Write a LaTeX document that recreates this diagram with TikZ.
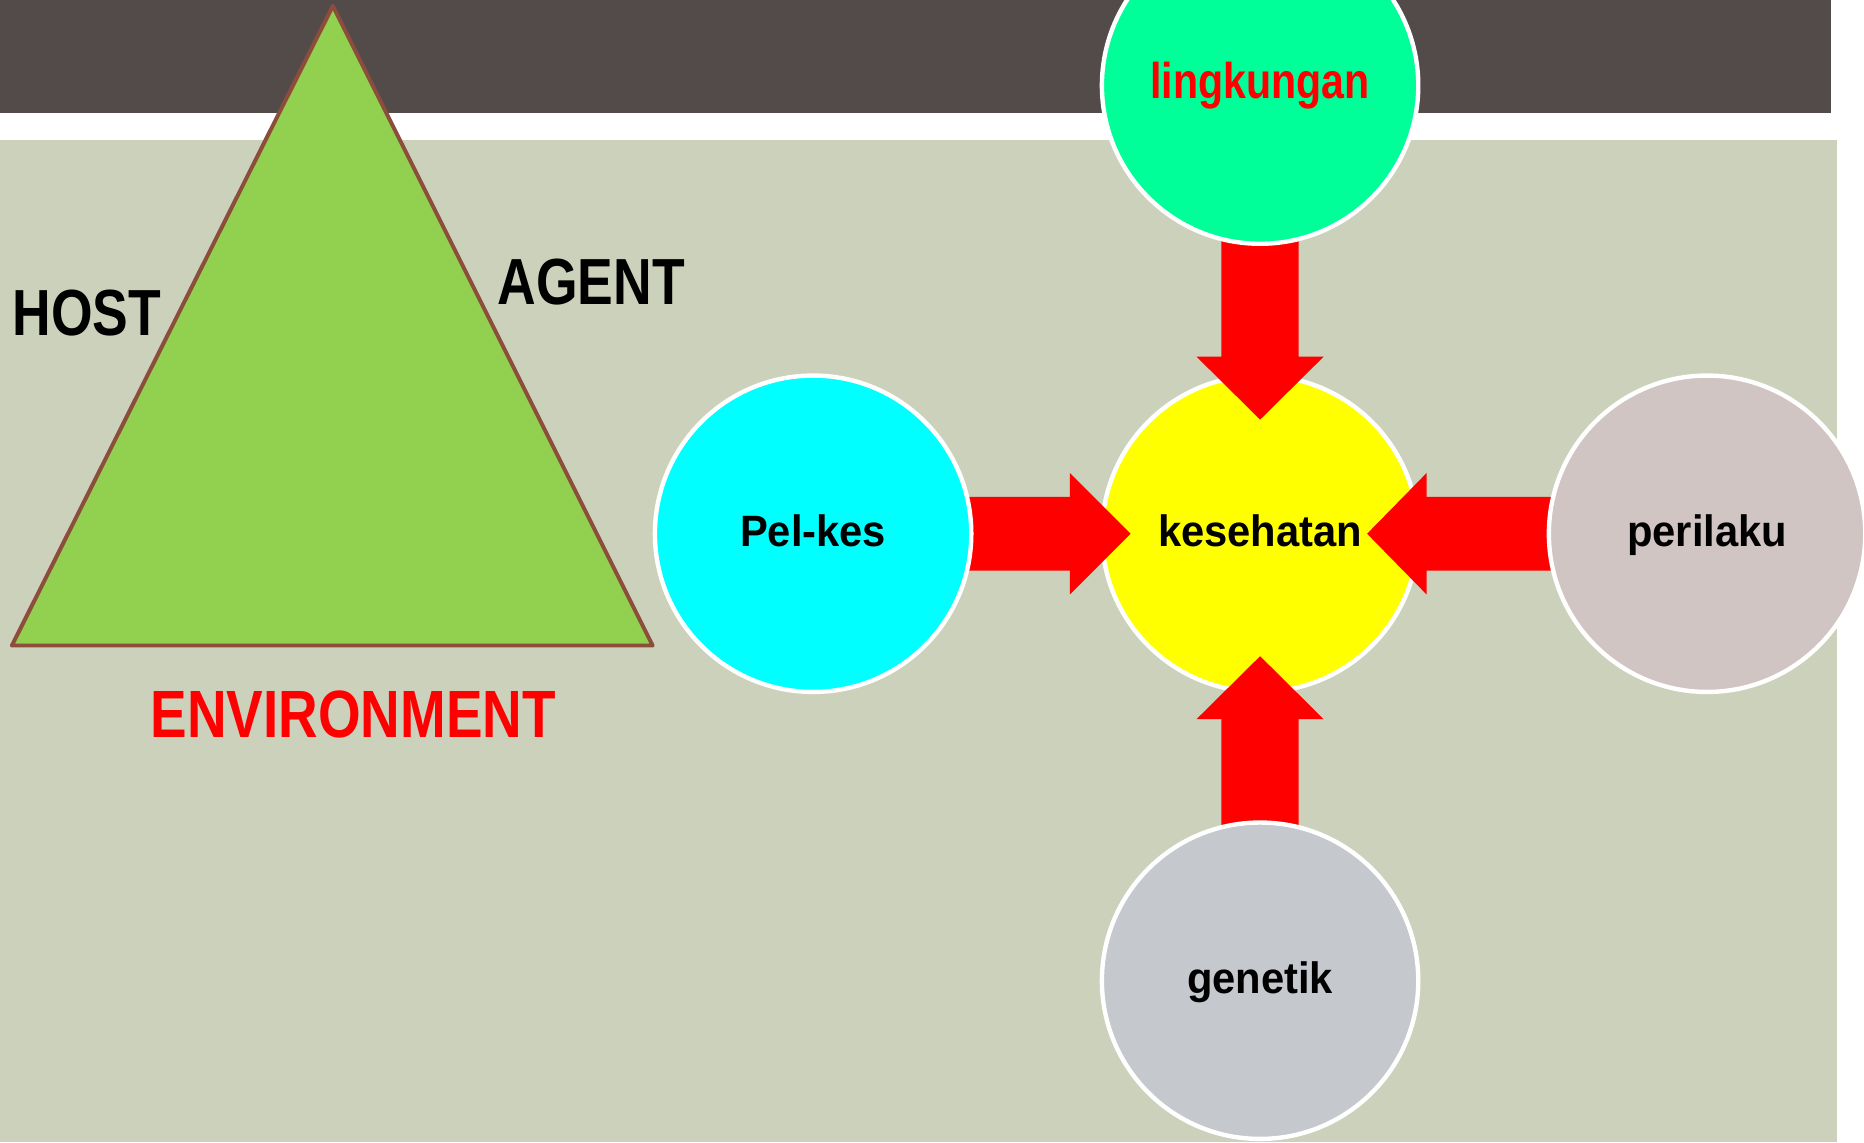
\documentclass[tikz,border=0pt]{standalone}
\usepackage{fontspec}
\setmainfont{Liberation Sans}
\newfontfamily\condfont{Liberation Sans}[FakeStretch=0.82]
\newfontfamily\labfont{Liberation Sans}[FakeStretch=0.95]
\usetikzlibrary{calc}
\definecolor{topband}{RGB}{83,75,74}
\definecolor{bodyband}{RGB}{204,209,187}
\definecolor{trifill}{RGB}{146,208,80}
\definecolor{triline}{RGB}{140,77,58}
\definecolor{cpel}{RGB}{0,255,255}
\definecolor{ckes}{RGB}{255,255,0}
\definecolor{cper}{RGB}{208,197,195}
\definecolor{cgen}{RGB}{197,200,204}
\definecolor{cling}{RGB}{0,255,153}
\definecolor{arrowred}{RGB}{255,0,0}
\pgfdeclarelayer{bg}
\pgfdeclarelayer{mid}
\pgfsetlayers{bg,mid,main}
\begin{document}
\begin{tikzpicture}[x=0.01cm,y=-0.01cm,
  circ/.style={circle, draw=white, line width=1.05pt, minimum size=2.66cm,
    inner sep=0pt, text height=0.6em, text depth=0pt,
    font=\labfont\bfseries\fontsize{10.5pt}{12pt}\selectfont},
  condlab/.style={inner sep=0pt, font=\condfont\bfseries\fontsize{15.6pt}{18pt}\selectfont},
  blockarrow/.style={fill=arrowred}]
\useasboundingbox (0,0) rectangle (1568,961);
\begin{pgfonlayer}{bg}
  \fill[white] (0,0) rectangle (1568,961);
  \fill[topband] (0,0) rectangle (1540,95);
  \fill[bodyband] (0,118) rectangle (1545,961);
  \filldraw[fill=trifill, draw=triline, line width=0.95pt, line join=round]
    (280,5) -- (549,543) -- (10,543) -- cycle;
  \node[circ, fill=ckes] (kes) at (1060,449) {kesehatan};
\end{pgfonlayer}

\node[circ, fill=cpel] (pel) at (684,449) {Pel-kes};
\node[circ, fill=cper] (per) at (1436,449) {perilaku};
\node[circ, fill=cgen] (gen) at (1060,825) {genetik};
\node[circ, fill=cling, text=arrowred,
  font=\condfont\bfseries\fontsize{12pt}{14pt}\selectfont] (ling) at (1060,72) {lingkungan};

\begin{pgfonlayer}{mid}
  \coordinate (tipL) at ($(kes.center)+(-109,0)$);
  \coordinate (tipR) at ($(kes.center)+(90,0)$);
  \coordinate (tipT) at ($(kes.center)+(0,-96)$);
  \coordinate (tipB) at ($(kes.center)+(0,103)$);
  \fill[blockarrow] ($(pel.center)+(0,-31)$) -- ($(tipL)+(-51,-31)$) -- ($(tipL)+(-51,-51)$)
    -- (tipL) -- ($(tipL)+(-51,51)$) -- ($(tipL)+(-51,31)$) -- ($(pel.center)+(0,31)$) -- cycle;
  \fill[blockarrow] ($(per.center)+(0,-31)$) -- ($(tipR)+(50,-31)$) -- ($(tipR)+(50,-51)$)
    -- (tipR) -- ($(tipR)+(50,51)$) -- ($(tipR)+(50,31)$) -- ($(per.center)+(0,31)$) -- cycle;
  \fill[blockarrow] ($(ling.center)+(-32.5,0)$) -- ($(tipT)+(-32.5,-53)$) -- ($(tipT)+(-53.5,-53)$)
    -- (tipT) -- ($(tipT)+(53.5,-53)$) -- ($(tipT)+(32.5,-53)$) -- ($(ling.center)+(32.5,0)$) -- cycle;
  \fill[blockarrow] ($(gen.center)+(-32.5,0)$) -- ($(tipB)+(-32.5,53)$) -- ($(tipB)+(-53.5,53)$)
    -- (tipB) -- ($(tipB)+(53.5,53)$) -- ($(tipB)+(32.5,53)$) -- ($(gen.center)+(32.5,0)$) -- cycle;
\end{pgfonlayer}

\node[condlab, anchor=base west] (host) at (10,282) {HOST};
\node[condlab, anchor=base west] (agent) at (418,256) {AGENT};
\node[condlab, text=arrowred, anchor=base, font=\condfont\bfseries\fontsize{16pt}{18pt}\selectfont] (env) at (297,620) {ENVIRONMENT};
\end{tikzpicture}
\end{document}
